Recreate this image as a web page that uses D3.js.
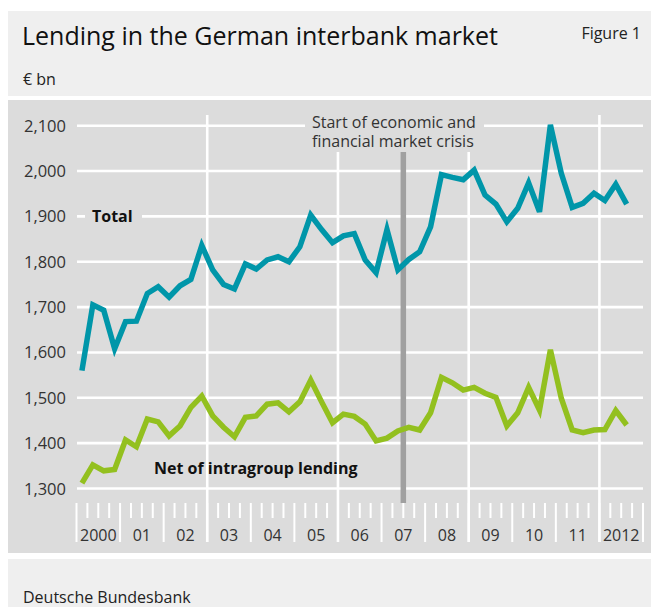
<!DOCTYPE html>
<html>
<head>
<meta charset="utf-8">
<script src="https://cdn.jsdelivr.net/npm/d3@7"></script>
<style>
body { margin: 0; background: #fff; }
svg { display: block; font-family: "Open Sans", "Noto Sans", sans-serif; }
</style>
</head>
<body>
<svg width="653" height="607"></svg>
<script>
// quarterly, 2000 Q1 .. 2012 Q3, € bn
var yearLabels = ["2000", "01", "02", "03", "04", "05", "06", "07", "08", "09", "10", "11", "2012"];
var total = [1560, 1705, 1693, 1608, 1668, 1669, 1730, 1745, 1722, 1747, 1761, 1836,
             1782, 1750, 1740, 1795, 1784, 1804, 1811, 1800, 1833, 1903, 1871, 1842,
             1857, 1862, 1804, 1776, 1871, 1782, 1805, 1822, 1877, 1992, 1986, 1981,
             2002, 1947, 1927, 1888, 1918, 1974, 1910, 2102, 1995, 1920, 1929, 1951,
             1935, 1971, 1927];
var net = [1312, 1352, 1339, 1342, 1407, 1392, 1453, 1447, 1416, 1438, 1479, 1504,
           1460, 1435, 1414, 1457, 1460, 1486, 1489, 1469, 1491, 1539, 1491, 1445,
           1464, 1459, 1442, 1405, 1411, 1427, 1435, 1429, 1467, 1545, 1533, 1517,
           1523, 1510, 1501, 1438, 1467, 1523, 1473, 1606, 1499, 1429, 1423, 1429,
           1430, 1472, 1440];
var yTicks = [1300, 1400, 1500, 1600, 1700, 1800, 1900, 2000, 2100];
var gridYears = [2003, 2006, 2009, 2012];
var crisisAt = 2007.5;

var svg = d3.select("svg");

var x = d3.scaleLinear().domain([2000, 2013]).range([76.5, 643]);
var y = d3.scaleLinear().domain([1300, 2100]).range([488.5, 125.7]);
function qx(d, i) { return x(2000 + (i + 0.5) / 4); }

// panels
svg.append("rect").attr("x", 8).attr("y", 11).attr("width", 643).attr("height", 85).attr("fill", "#efefef");
svg.append("rect").attr("x", 8).attr("y", 100).attr("width", 643).attr("height", 453).attr("fill", "#dcdcdc");
svg.append("rect").attr("x", 8).attr("y", 559).attr("width", 643).attr("height", 48).attr("fill", "#efefef");

svg.append("text").attr("x", 22).attr("y", 45).attr("font-size", 25).attr("fill", "#111")
  .text("Lending in the German interbank market");
svg.append("text").attr("x", 641).attr("y", 39).attr("font-size", 16).attr("text-anchor", "end").attr("fill", "#222")
  .text("Figure 1");
svg.append("text").attr("x", 23).attr("y", 85).attr("font-size", 16).attr("fill", "#222").text("€ bn");
svg.append("text").attr("x", 23).attr("y", 603).attr("font-size", 16).attr("fill", "#222").text("Deutsche Bundesbank");

// horizontal grid + y labels
svg.append("g").selectAll("line").data(yTicks).enter().append("line")
  .attr("x1", 77).attr("x2", 643)
  .attr("y1", function(d) { return y(d); }).attr("y2", function(d) { return y(d); })
  .attr("stroke", "#fff").attr("stroke-width", 2.6);
svg.append("g").selectAll("text").data(yTicks).enter().append("text")
  .attr("x", 66).attr("y", function(d) { return y(d) + 6; })
  .attr("text-anchor", "end").attr("font-size", 16.5).attr("fill", "#333")
  .text(function(d) { return d3.format(",")(d); });

// vertical grid
svg.append("g").selectAll("line").data(gridYears).enter().append("line")
  .attr("x1", function(d) { return x(d); }).attr("x2", function(d) { return x(d); })
  .attr("y1", 115).attr("y2", 542)
  .attr("stroke", "#fff").attr("stroke-width", 2.6);

// x ticks: quarters short, years long
var quarters = d3.range(0, 13 * 4 + 1).map(function(i) { return 2000 + i / 4; });
svg.append("g").selectAll("line").data(quarters).enter().append("line")
  .attr("x1", function(d) { return x(d); }).attr("x2", function(d) { return x(d); })
  .attr("y1", 503)
  .attr("y2", function(d) { return d % 1 === 0 ? 542 : 518; })
  .attr("stroke", "#fff").attr("stroke-width", 2);
svg.append("g").selectAll("text").data(yearLabels).enter().append("text")
  .attr("x", function(d, i) { return x(2000 + i + 0.5); }).attr("y", 541)
  .attr("text-anchor", "middle").attr("font-size", 16).attr("fill", "#333")
  .text(function(d) { return d; });

// crisis marker
svg.append("line").attr("x1", x(crisisAt)).attr("x2", x(crisisAt)).attr("y1", 152).attr("y2", 503)
  .attr("stroke", "#a0a0a0").attr("stroke-width", 5.5);
svg.append("rect").attr("x", 305).attr("y", 110).attr("width", 179).attr("height", 42).attr("fill", "#dcdcdc");
var ct = svg.append("text").attr("font-size", 16).attr("fill", "#333");
ct.append("tspan").attr("x", 312).attr("y", 128).text("Start of economic and");
ct.append("tspan").attr("x", 312).attr("y", 147).text("financial market crisis");

// lines
var line = d3.line().x(qx).y(function(d) { return y(d); });
svg.append("path").datum(total).attr("d", line).attr("fill", "none")
  .attr("stroke", "#0096a9").attr("stroke-width", 5.5).attr("stroke-linejoin", "miter");
svg.append("path").datum(net).attr("d", line).attr("fill", "none")
  .attr("stroke", "#93c01f").attr("stroke-width", 5.5).attr("stroke-linejoin", "miter");

// series labels
svg.append("rect").attr("x", 85).attr("y", 205).attr("width", 57).attr("height", 23).attr("fill", "#dcdcdc");
svg.append("text").attr("x", 92).attr("y", 222).attr("font-size", 16).attr("font-weight", "bold").attr("fill", "#111")
  .text("Total");
svg.append("text").attr("x", 154).attr("y", 474).attr("font-size", 16).attr("font-weight", "bold").attr("fill", "#111")
  .text("Net of intragroup lending");
</script>
</body>
</html>
